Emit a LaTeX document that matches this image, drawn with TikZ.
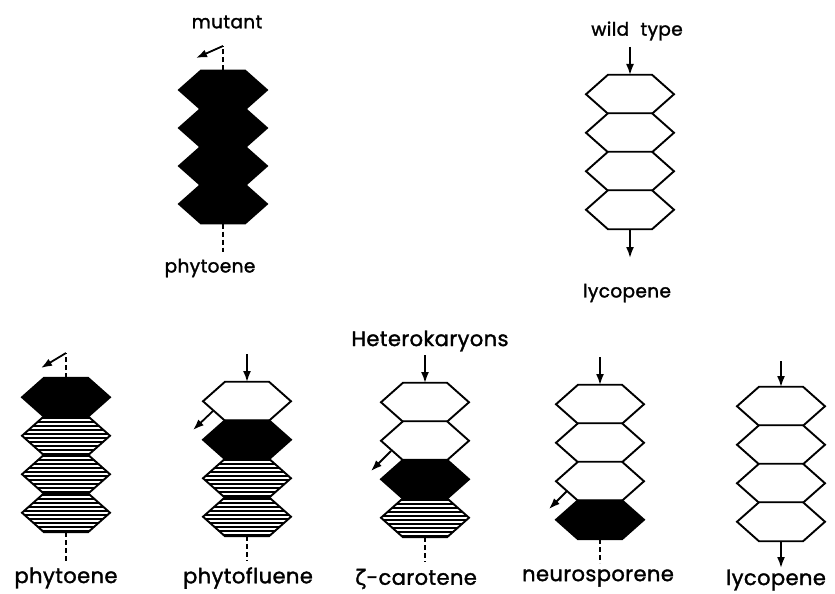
\documentclass[tikz,border=0pt]{standalone}
\usepackage{fontspec}
\setmainfont{Poppins}[FakeBold=1.6, LetterSpace=2]
\newfontfamily\greekfont{DejaVu Sans}[FakeBold=1.2]
\usetikzlibrary{arrows.meta}
\tikzset{
  hexline/.style={line width=1.9pt, line join=miter},
  conn/.style={line width=1.8pt},
  arr/.style={conn, -{Latex[length=11pt,width=8pt]}},
  dsh/.style={conn, dash pattern=on 5pt off 3pt},
  toplab/.style={font=\fontsize{18.5}{18.5}\selectfont, inner sep=0pt},
  botlab/.style={font=\fontsize{21}{21}\selectfont, inner sep=0pt},
  pics/hexwhite/.style={code={
    \draw[hexline,fill=white] (-22,-19.5)--(22,-19.5)--(44,0)--(22,19.5)--(-22,19.5)--(-44,0)--cycle;}},
  pics/hexblack/.style={code={
    \draw[hexline,fill=black] (-22,-19.5)--(22,-19.5)--(44,0)--(22,19.5)--(-22,19.5)--(-44,0)--cycle;}},
  pics/hexhatch/.style={code={
    \begin{scope}
      \clip (-22,-19.5)--(22,-19.5)--(44,0)--(22,19.5)--(-22,19.5)--(-44,0)--cycle;
      \fill[white] (-50,-25) rectangle (50,25);
      \foreach \k in {-18,-14,...,18} \draw[line width=2pt] (-50,\k) -- (50,\k);
    \end{scope}
    \draw[hexline] (-22,-19.5)--(22,-19.5)--(44,0)--(22,19.5)--(-22,19.5)--(-44,0)--cycle;}},
}
\begin{document}
\begin{tikzpicture}[x=1pt,y=-1pt]
\useasboundingbox (0,0) rectangle (835,594);
% ---------- mutant ----------
\foreach \i in {0,1,2,3} \pic at (223,{90+38*\i}) {hexblack};
\coordinate (mtop) at (223,70.5);
\coordinate (mbend) at (223,46);
\coordinate (mtip) at (196,58);
\coordinate (mbot) at (223,223.5);
\coordinate (mend) at (223,252);
\node[toplab] (mlab) at (227,22) {mutant};
\node[toplab] (mprod) at (210,268) {phytoene};
\draw[dsh] (mtop) -- (mbend);
\draw[arr] (mbend) -- (mtip);
\draw[dsh] (mbot) -- (mend);
% ---------- wild type ----------
\foreach \i in {0,1,2,3} \pic at (630,{94.25+38.5*\i}) {hexwhite};
\coordinate (wtop) at (630,75);
\coordinate (wstart) at (630,47);
\coordinate (wbot) at (630,229);
\coordinate (wend) at (630,258);
\node[toplab] (wlab) at (637,31) {wild\hspace{6pt} type};
\node[toplab] (wprod) at (627,293) {lycopene};
\draw[arr] (wstart) -- (wtop);
\draw[arr] (wbot) -- (wend);
% ---------- heterokaryons ----------
\node[botlab] (het) at (430,341) {Heterokaryons};
% stack 1
\pic at (66,397.25) {hexblack};
\pic at (66,435.75) {hexhatch};
\pic at (66,474.25) {hexhatch};
\pic at (66,512.75) {hexhatch};
\coordinate (a1top) at (66,378);
\coordinate (a1bend) at (66,353);
\coordinate (a1tip) at (41,368);
\coordinate (a1bot) at (66,532);
\coordinate (a1end) at (66,561);
\draw[dsh] (a1top) -- (a1bend);
\draw[arr] (a1bend) -- (a1tip);
\draw[dsh] (a1bot) -- (a1end);
\node[botlab] (p1) at (66,578) {phytoene};
% stack 2
\pic at (247,401.25) {hexwhite};
\pic at (247,439.75) {hexblack};
\pic at (247,478.25) {hexhatch};
\pic at (247,516.75) {hexhatch};
\coordinate (a2start) at (247,354);
\coordinate (a2top) at (247,382);
\coordinate (a2side) at (213,411);
\coordinate (a2tip) at (193,430);
\coordinate (a2bot) at (247,536);
\coordinate (a2end) at (247,561);
\draw[arr] (a2start) -- (a2top);
\draw[arr] (a2side) -- (a2tip);
\draw[dsh] (a2bot) -- (a2end);
\node[botlab] (p2) at (248,578) {phytofluene};
% stack 3
\pic at (425,402.25) {hexwhite};
\pic at (425,440.75) {hexwhite};
\pic at (425,479.25) {hexblack};
\pic at (425,517.75) {hexhatch};
\coordinate (a3start) at (425,355);
\coordinate (a3top) at (425,383);
\coordinate (a3side) at (391,451);
\coordinate (a3tip) at (371,471);
\coordinate (a3bot) at (425,537);
\coordinate (a3end) at (425,562);
\draw[arr] (a3start) -- (a3top);
\draw[arr] (a3side) -- (a3tip);
\draw[dsh] (a3bot) -- (a3end);
\node[botlab] (p3) at (416,579) {{\greekfont ζ}-carotene};
% stack 4
\pic at (600,404.25) {hexwhite};
\pic at (600,442.75) {hexwhite};
\pic at (600,481.25) {hexwhite};
\pic at (600,519.75) {hexblack};
\coordinate (a4start) at (600,357);
\coordinate (a4top) at (600,385);
\coordinate (a4side) at (567,491);
\coordinate (a4tip) at (549,509);
\coordinate (a4bot) at (600,539);
\coordinate (a4end) at (600,563);
\draw[arr] (a4start) -- (a4top);
\draw[arr] (a4side) -- (a4tip);
\draw[dsh] (a4bot) -- (a4end);
\node[botlab] (p4) at (598,578) {neurosporene};
% stack 5
\pic at (781,406.25) {hexwhite};
\pic at (781,444.75) {hexwhite};
\pic at (781,483.25) {hexwhite};
\pic at (781,521.75) {hexwhite};
\coordinate (a5start) at (781,361);
\coordinate (a5top) at (781,387);
\coordinate (a5bot) at (781,541);
\coordinate (a5end) at (781,568);
\draw[arr] (a5start) -- (a5top);
\draw[arr] (a5bot) -- (a5end);
\node[botlab] (p5) at (776,580) {lycopene};
\end{tikzpicture}
\end{document}
